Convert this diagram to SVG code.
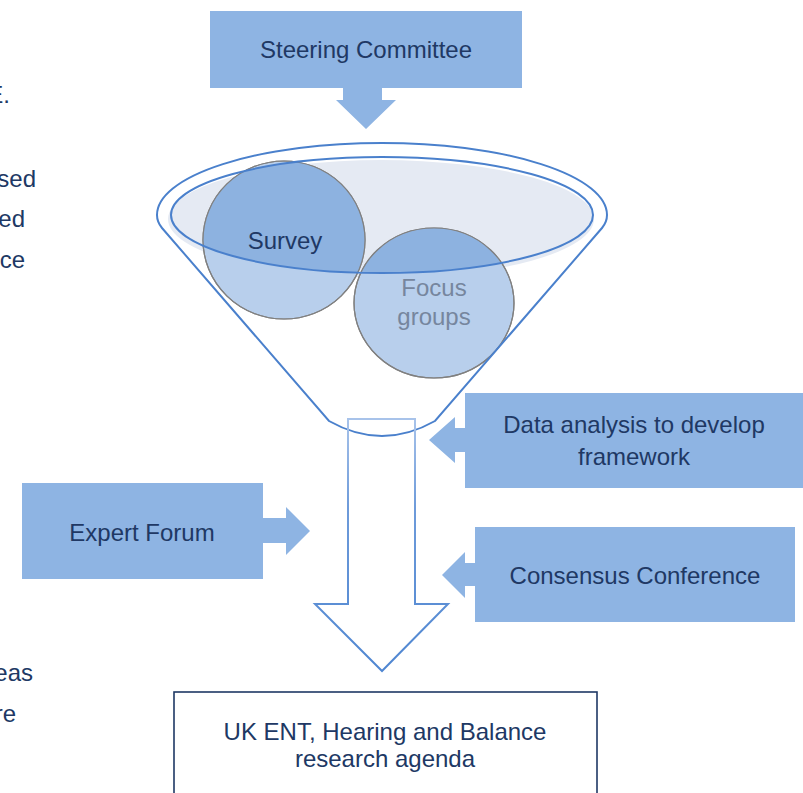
<svg xmlns="http://www.w3.org/2000/svg" width="803" height="793" viewBox="0 0 803 793">
<style>
.box{fill:#8EB4E3;}
.t{font-family:"Liberation Sans",Arial,sans-serif;font-size:24px;fill:#203864;}
.c{text-anchor:middle;}
.e{text-anchor:end;}
.funnel{fill:none;stroke:#4A80CC;stroke-width:2;}
.circ{stroke:#808080;stroke-width:1.2;}
</style>
<defs>
<clipPath id="inner"><ellipse cx="382" cy="215" rx="211" ry="58"/></clipPath>
<linearGradient id="ag" x1="0" y1="0" x2="0" y2="1">
<stop offset="0" stop-color="#A8C3EA"/>
<stop offset="0.35" stop-color="#6E9BDA"/>
<stop offset="1" stop-color="#4F86D1"/>
</linearGradient>
</defs>
<rect width="803" height="793" fill="#ffffff"/>

<g id="page-text">
<text class="t e" x="10" y="103">E.</text>
<text class="t e" x="36" y="187">sed</text>
<text class="t e" x="25" y="227">ed</text>
<text class="t e" x="25" y="268">ce</text>
<text class="t e" x="33" y="681">eas</text>
<text class="t e" x="16" y="722">re</text>
</g>

<g id="funnel">
<path d="M162 228 Q157 222 157 215 A225 72 0 0 1 607 215 Q607 222 602 228 L435 421 Q382 451 329 421 Z" fill="#ffffff" stroke="none"/>
<ellipse cx="381" cy="219" rx="213" ry="59" fill="#E5EAF3"/>
</g>

<g id="survey">
<ellipse class="circ" cx="284" cy="240" rx="81" ry="79" fill="#B8CFEC"/>
<ellipse cx="284" cy="240" rx="81" ry="79" fill="#8DB2E0" clip-path="url(#inner)"/>
<ellipse cx="284" cy="240" rx="81" ry="79" fill="none" stroke="#808080" stroke-width="1.2"/>
<text class="t c" x="285" y="249">Survey</text>
</g>

<g id="focus-groups">
<ellipse class="circ" cx="434" cy="303" rx="80" ry="75" fill="#B8CFEC"/>
<ellipse cx="434" cy="303" rx="80" ry="75" fill="#8DB2E0" clip-path="url(#inner)"/>
<ellipse cx="434" cy="303" rx="80" ry="75" fill="none" stroke="#808080" stroke-width="1.2"/>
<text class="t c" x="434" y="296" style="fill:#76869E">Focus</text>
<text class="t c" x="434" y="325" style="fill:#76869E">groups</text>
</g>

<g id="funnel-outline">
<ellipse cx="382" cy="215" rx="211" ry="58" class="funnel"/>
<path class="funnel" d="M162 228 Q157 222 157 215 A225 72 0 0 1 607 215 Q607 222 602 228 L435 421 Q382 451 329 421 Z"/>
</g>

<g id="connectors">
<path d="M348 419 L415 419 L415 604 L448 604 L382 671 L315 604 L348 604 Z" fill="none" stroke="url(#ag)" stroke-width="2" stroke-linejoin="miter"/>
</g>

<g id="steering-committee">
<path class="box" d="M210 11 H522 V88 H382 V100 H396 L366 129 L336 100 H343 V88 H210 Z"/>
<text class="t c" x="366" y="58">Steering Committee</text>
</g>

<g id="data-analysis">
<path class="box" d="M465 393 H803 V488 H465 V452 H455 V463 L429 440 L455 417 V428 H465 Z"/>
<text class="t c" x="634" y="433">Data analysis to develop</text>
<text class="t c" x="634" y="465">framework</text>
</g>

<g id="expert-forum">
<path class="box" d="M22 483 H263 V518 H286 V507 L310 531 L286 555 V543 H263 V579 H22 Z"/>
<text class="t c" x="142" y="541">Expert Forum</text>
</g>

<g id="consensus-conference">
<path class="box" d="M475 527 H795 V622 H475 V586 H465 V598 L442 575 L465 552 V563 H475 Z"/>
<text class="t c" x="635" y="584">Consensus Conference</text>
</g>

<g id="research-agenda">
<rect x="174" y="692" width="423" height="120" fill="#ffffff" stroke="#1F3864" stroke-width="1.6"/>
<text class="t c" x="385" y="740">UK ENT, Hearing and Balance</text>
<text class="t c" x="385" y="767">research agenda</text>
</g>
</svg>
